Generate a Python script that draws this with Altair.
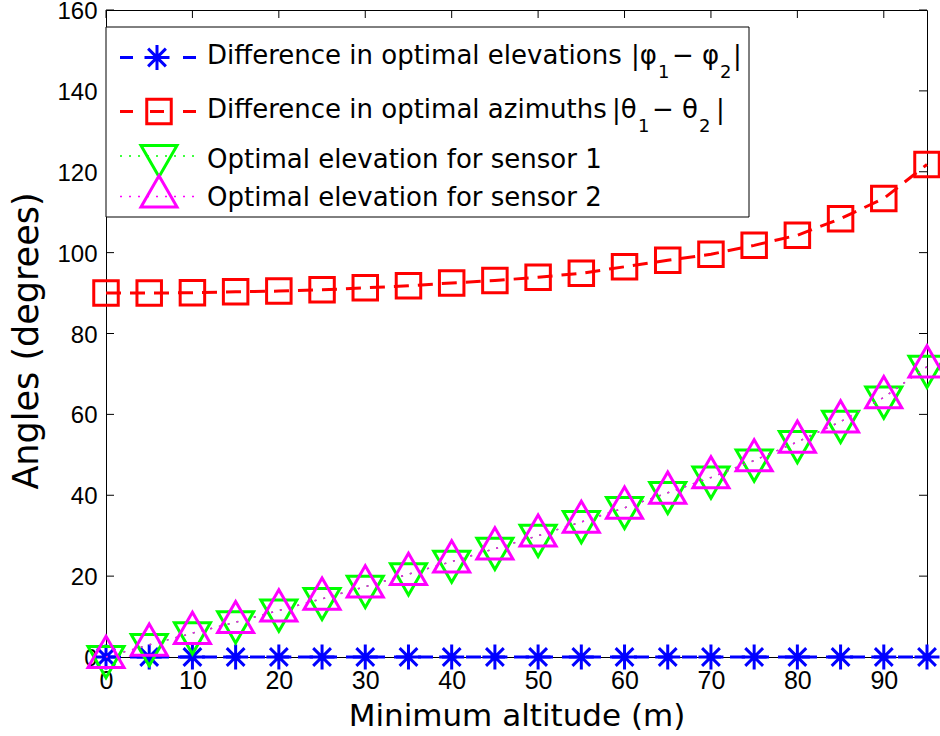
import altair as alt
import pandas as pd

# Minimum altitude (m) and the optimal angles (degrees) at each altitude
altitude = [0, 5, 10, 15, 20, 25, 30, 35, 40, 45, 50, 55, 60, 65, 70, 75, 80, 85, 90, 95]
elev_diff = [0.0, 0.0, 0.0, 0.0, 0.0, 0.0, 0.0, 0.0, 0.0, 0.0,
             0.0, 0.0, 0.0, 0.0, 0.0, 0.0, 0.0, 0.0, 0.0, 0.0]
azim_diff = [90.0, 90.0, 90.1, 90.3, 90.5, 90.8, 91.3, 91.8, 92.5, 93.1,
             93.9, 94.9, 96.5, 98.1, 99.6, 101.8, 104.3, 108.4, 113.4, 121.8]
elev_s1 = [0.0, 3.0, 5.9, 8.6, 11.5, 14.4, 17.4, 20.5, 23.6, 26.8,
           30.0, 33.4, 36.9, 40.6, 44.4, 48.6, 53.2, 58.2, 64.2, 71.8]
elev_s2 = [0.0, 3.0, 5.9, 8.6, 11.5, 14.4, 17.4, 20.5, 23.6, 26.8,
           30.0, 33.4, 36.9, 40.6, 44.4, 48.6, 53.2, 58.2, 64.2, 71.8]

x_ticks = [0, 10, 20, 30, 40, 50, 60, 70, 80, 90]
y_ticks = [0, 20, 40, 60, 80, 100, 120, 140, 160]

W, H = 821, 647
BLUE, RED, GREEN, MAGENTA = "#0000ff", "#ff0000", "#00ff00", "#ff00ff"
TEXT_FONT = "DejaVu Sans"
TICK_FONT = "Liberation Sans"

# marker outlines (unit coordinates, scaled by sqrt(size)/2)
ASTERISK = "M-1,0L1,0M0,-1L0,1M-0.71,-0.71L0.71,0.71M-0.71,0.71L0.71,-0.71"
TRI_UP = "M0,-1.155L1,0.577L-1,0.577Z"
TRI_DOWN = "M0,1.155L1,-0.577L-1,-0.577Z"

xs = alt.Scale(domain=[0, 95], nice=False, zero=False)
ys = alt.Scale(domain=[0, 160], nice=False, zero=False)

x_axis = alt.Axis(
    values=x_ticks, title="Minimum altitude (m)", grid=False, ticks=False, tickSize=0,
    labelFont=TICK_FONT, labelFontSize=25, labelColor="black", labelPadding=31,
    labelBaseline="alphabetic", labelFlush=False, labelOverlap=False,
    domainColor="black", domainWidth=1,
    titleFont=TEXT_FONT, titleFontSize=31, titleFontWeight="normal", titleColor="black",
    titleX=W / 2, titleY=68, titleAlign="center", titleBaseline="alphabetic",
)
y_axis = alt.Axis(
    values=y_ticks, title="Angles (degrees)", grid=False, ticks=False, tickSize=0,
    labelFont=TICK_FONT, labelFontSize=24, labelColor="black", labelPadding=9,
    labelOffset=1.5, labelFlush=False, labelOverlap=False,
    domainColor="black", domainWidth=1,
    titleFont=TEXT_FONT, titleFontSize=35, titleFontWeight="normal", titleColor="black",
    titleAngle=270, titleX=-69, titleY=H / 2 + 7, titleAlign="center", titleBaseline="alphabetic",
)

X = alt.X("alt:Q", scale=xs, axis=x_axis)
Y = alt.Y("v:Q", scale=ys, axis=y_axis)


def series(values):
    return pd.DataFrame({"alt": altitude, "v": values})


def line(values, color, dash, width):
    return alt.Chart(series(values)).mark_line(
        color=color, strokeDash=dash, strokeWidth=width
    ).encode(x=X, y=Y)


def markers(values, color, shape, size):
    return alt.Chart(series(values)).mark_point(
        shape=shape, size=size, filled=False, color=color, strokeWidth=3, opacity=1
    ).encode(x=X, y=Y)


# inward ticks on all four sides
xt = pd.DataFrame({"t": x_ticks})
yt = pd.DataFrame({"t": y_ticks})
XT = alt.X("t:Q", scale=xs, axis=x_axis)
YT = alt.Y("t:Q", scale=ys, axis=y_axis)
tick_layers = [
    alt.Chart(xt).mark_rule(color="black", strokeWidth=1).encode(x=XT, y=alt.value(H), y2=alt.value(H - 8)),
    alt.Chart(xt).mark_rule(color="black", strokeWidth=1).encode(x=XT, y=alt.value(0), y2=alt.value(8)),
    alt.Chart(yt).mark_rule(color="black", strokeWidth=1).encode(y=YT, x=alt.value(0), x2=alt.value(8)),
    alt.Chart(yt).mark_rule(color="black", strokeWidth=1).encode(y=YT, x=alt.value(W), x2=alt.value(W - 8)),
]

data_layers = [
    line(elev_diff, BLUE, [15, 9], 3),
    markers(elev_diff, BLUE, ASTERISK, 625),
    line(azim_diff, RED, [15, 9], 3),
    markers(azim_diff, RED, "square", 600),
    line(elev_s1, GREEN, [2, 7], 1.5),
    markers(elev_s1, GREEN, TRI_DOWN, 1296),
    line(elev_s2, MAGENTA, [2, 7], 1.5),
    markers(elev_s2, MAGENTA, TRI_UP, 1296),
]

# legend box
one = pd.DataFrame({"k": [0]})
legend_layers = [
    alt.Chart(one).mark_rect(fill="white", stroke="black", strokeWidth=1).encode(
        x=alt.value(0), x2=alt.value(643), y=alt.value(17), y2=alt.value(207)
    )
]


def legend_sample(y, color, dash, width):
    return alt.Chart(one).mark_rule(color=color, strokeDash=dash, strokeWidth=width).encode(
        x=alt.value(14), x2=alt.value(90), y=alt.value(y)
    )


def legend_marker(x, y, color, shape, size):
    return alt.Chart(one).mark_point(
        shape=shape, size=size, filled=False, color=color, strokeWidth=3, opacity=1
    ).encode(x=alt.value(x), y=alt.value(y))


def legend_text(text, x, y, size=26):
    return alt.Chart(one).mark_text(
        text=text, align="left", baseline="alphabetic", font=TEXT_FONT,
        fontSize=size, color="black"
    ).encode(x=alt.value(x), y=alt.value(y))


legend_layers += [
    legend_sample(47.5, BLUE, [13, 17, 14, 19, 13], 3),
    legend_marker(51, 47.5, BLUE, ASTERISK, 625),
    legend_sample(101.5, RED, [13, 17, 14, 19, 13], 3),
    legend_marker(53, 101.5, RED, "square", 600),
    legend_sample(146, GREEN, [2, 7], 1.5),
    legend_marker(53, 146, GREEN, TRI_DOWN, 1296),
    legend_sample(186.5, MAGENTA, [2, 7], 1.5),
    legend_marker(53, 186.5, MAGENTA, TRI_UP, 1296),
    # row 1: |phi_1 - phi_2|
    legend_text("Difference in optimal elevations", 101, 54),
    legend_text("|\u03c6", 525, 54),
    legend_text("1", 552, 68, 18),
    legend_text("\u2212 \u03c6", 566, 54),
    legend_text("2", 614, 68, 18),
    legend_text("|", 627, 54),
    # row 2: |theta_1 - theta_2|
    legend_text("Difference in optimal azimuths", 101, 108),
    legend_text("|\u03b8", 506, 108),
    legend_text("1", 532, 122, 18),
    legend_text("\u2212 \u03b8", 546, 108),
    legend_text("2", 593, 122, 18),
    legend_text("|", 610, 108),
    legend_text("Optimal elevation for sensor 1", 101, 158),
    legend_text("Optimal elevation for sensor 2", 101, 196),
]

chart = alt.layer(*tick_layers, *data_layers, *legend_layers).properties(
    width=W, height=H,
    autosize=alt.AutoSizeParams(type="none"),
    padding={"left": 106, "top": 10, "right": 13, "bottom": 79},
    background="white",
).configure_view(stroke="black", strokeWidth=1)

chart.save("out.html", embed_options={"renderer": "svg", "actions": False})
